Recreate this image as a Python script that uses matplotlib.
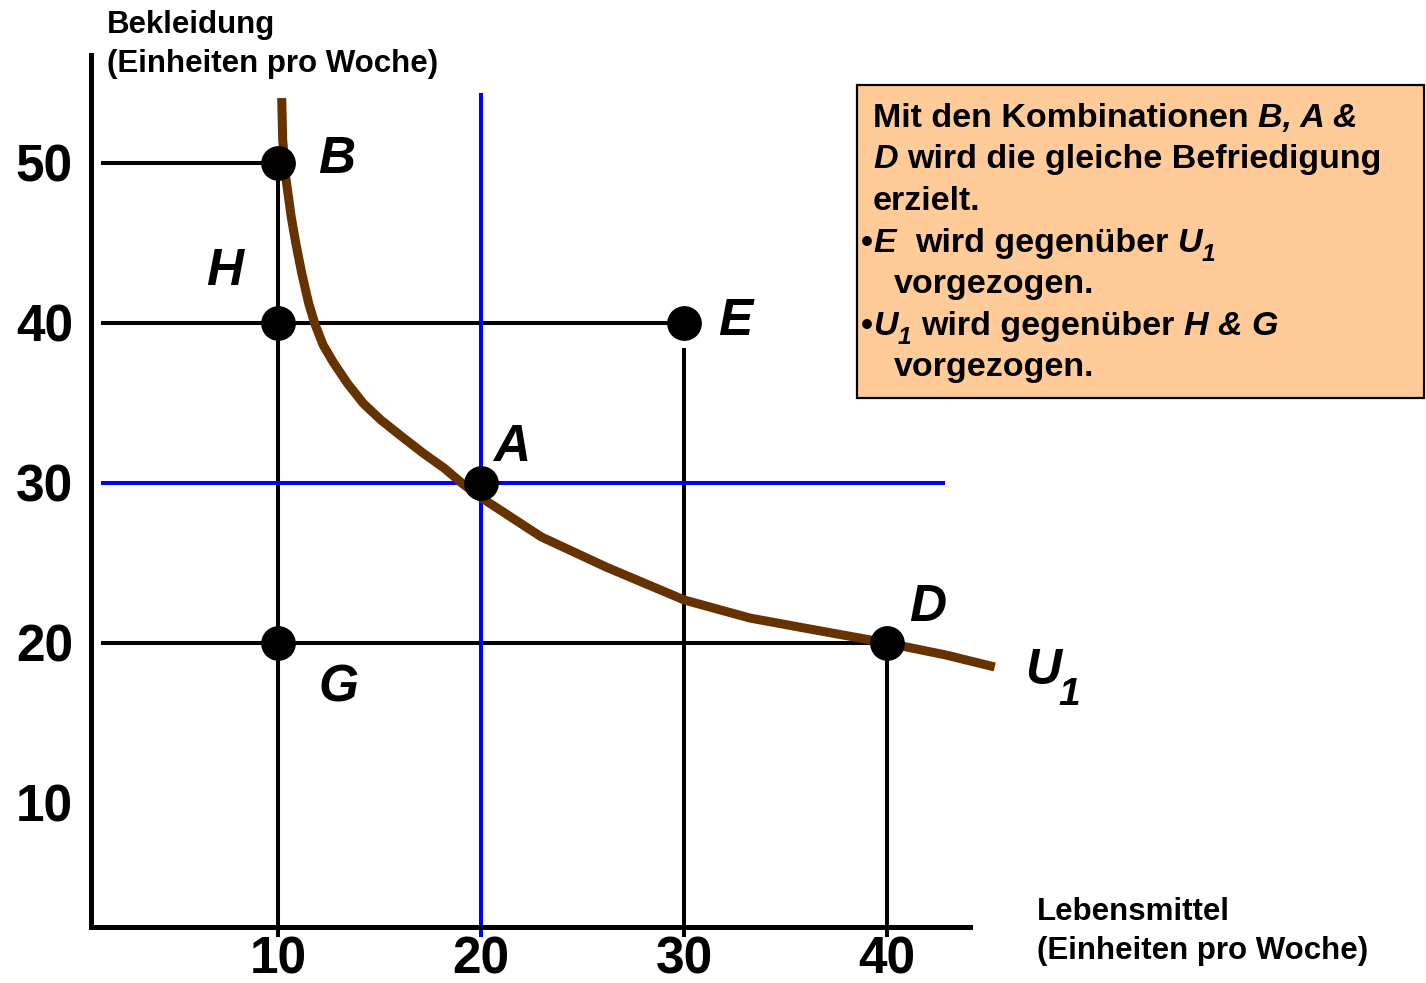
import matplotlib
matplotlib.use('Agg')
import matplotlib.pyplot as plt
from matplotlib.patches import Rectangle

# ========== Schrift ==========
plt.rcParams['font.family'] = ['Liberation Sans', 'DejaVu Sans']
plt.rcParams['font.weight'] = 'bold'

# ========== Daten ==========
# Indifferenzkurve U1
kurve_x = [10.16, 10.21, 10.36, 10.63, 10.85, 11.15, 11.49, 11.80, 12.20, 12.71,
           13.40, 14.18, 15.05, 16.09, 17.14, 18.18, 19.05, 20.00, 22.96, 26.15,
           30.00, 33.24, 36.47, 40.00, 42.90, 45.31]
kurve_y = [54.03, 51.41, 49.09, 46.59, 45.00, 43.07, 41.20, 39.90, 38.60, 37.50,
           36.20, 34.95, 33.91, 32.86, 31.83, 30.89, 29.95, 29.05, 26.60, 24.72,
           22.66, 21.53, 20.78, 19.97, 19.22, 18.47]

# Warenkörbe
punkt_namen = ['B', 'H', 'E', 'A', 'G', 'D']
punkt_x = [10, 10, 30, 20, 10, 40]
punkt_y = [50, 40, 40, 30, 20, 20]

x_ticks = [10, 20, 30, 40]
y_ticks = [10, 20, 30, 40, 50]

W, H = 1426, 983


def px(x, y):
    # Pixel (von links oben) -> Figurkoordinaten
    return x / W, 1 - y / H


fig = plt.figure(figsize=(W / 100, H / 100), dpi=100)
renderer = fig.canvas.get_renderer()
ax = fig.add_axes([91 / W, 1 - 927 / H, (970 - 91) / W, (927 - 55) / H])
ax.set_xlim(0.76, 44.09)
ax.set_ylim(2.22, 56.72)

for s in ['top', 'right']:
    ax.spines[s].set_visible(False)
for s in ['left', 'bottom']:
    ax.spines[s].set_linewidth(3.6)
    ax.spines[s].set_capstyle('projecting')

ax.set_xticks(x_ticks)
ax.set_xticklabels([str(v) for v in x_ticks], fontsize=37, fontweight='bold')
ax.set_yticks(y_ticks)
ax.set_yticklabels([str(v) for v in y_ticks], fontsize=37, fontweight='bold')
ax.tick_params(axis='y', length=0, pad=13)
ax.tick_params(axis='x', length=0, pad=6)

# Hilfslinien (schwarz)
x0 = 1.36
y_unten = 1.72
lw = 2.9
ax.plot([x0, 10], [50, 50], color='black', lw=lw)
ax.plot([x0, 30], [40, 40], color='black', lw=lw)
ax.plot([x0, 40], [20, 20], color='black', lw=lw)
ax.plot([10, 10], [50, y_unten], color='black', lw=lw, clip_on=False)
ax.plot([30, 30], [38.3, y_unten], color='black', lw=lw, clip_on=False)
ax.plot([40, 40], [20, y_unten], color='black', lw=lw, clip_on=False)

# blaue Linien durch A
ax.plot([x0, 42.75], [30, 30], color='#0000FF', lw=lw)
ax.plot([20, 20], [54.2, y_unten], color='#0000FF', lw=lw, clip_on=False)

# Kurve U1
ax.plot(kurve_x, kurve_y, color='#663300', lw=6.5, clip_on=False,
        solid_capstyle='butt', solid_joinstyle='round')

# Punkte
ax.plot(punkt_x, punkt_y, 'o', color='black', markersize=24, clip_on=False)

# Beschriftung der Punkte (Position in Pixel)
label_pos = {'B': (337, 155), 'H': (225, 267), 'E': (735, 317),
             'A': (512, 443), 'G': (338, 683), 'D': (928, 603)}
for name in punkt_namen:
    lx, ly = label_pos[name]
    fig.text(*px(lx, ly + 18), name, fontsize=37, fontweight='bold',
             style='italic', ha='center', va='baseline')

# U1
fig.text(*px(1043, 684), 'U', fontsize=36, fontweight='bold', style='italic',
         ha='center', va='baseline')
fig.text(*px(1069, 705), '1', fontsize=28, fontweight='bold', style='italic',
         ha='center', va='baseline')

# Achsenbeschriftungen
fig.text(*px(107, 33), 'Bekleidung', fontsize=22.5, fontweight='bold',
         ha='left', va='baseline')
fig.text(*px(107, 72), '(Einheiten pro Woche)', fontsize=22.5,
         fontweight='bold', ha='left', va='baseline')
fig.text(*px(1037, 920), 'Lebensmittel', fontsize=22.5, fontweight='bold',
         ha='left', va='baseline')
fig.text(*px(1037, 959), '(Einheiten pro Woche)', fontsize=22.5,
         fontweight='bold', ha='left', va='baseline')

# Textkasten
bx0, by0, bx1, by1 = 857, 85, 1424, 398
box = Rectangle(px(bx0, by1), (bx1 - bx0) / W, (by1 - by0) / H,
                transform=fig.transFigure, facecolor='#FFCC99',
                edgecolor='black', lw=1.6, zorder=0)
fig.patches.append(box)

fs = 24.5


def breite(txt, stil, groesse):
    t = fig.text(0, 0, txt, fontsize=groesse, fontweight='bold', style=stil)
    b = t.get_window_extent(renderer).width
    t.remove()
    return b


# Leerzeichenbreite (fuehrende Leerzeichen werden beim Messen verschluckt)
leer = breite('x x', 'normal', fs) - breite('xx', 'normal', fs)


def zeile(x, y, teile):
    # teile: (Text, 'n' normal / 'i' kursiv / 's' kursiver Index)
    for txt, art in teile:
        n_leer = len(txt) - len(txt.lstrip(' '))
        x += n_leer * leer
        txt = txt.lstrip(' ')
        stil = 'normal' if art == 'n' else 'italic'
        gr = fs * 0.72 if art == 's' else fs
        yy = y + (9 if art == 's' else 0)
        if txt:
            t = fig.text(*px(x, yy), txt, fontsize=gr, fontweight='bold',
                         style=stil, ha='left', va='baseline')
            x += t.get_window_extent(renderer).width


zeile(873, 127, [('Mit den Kombinationen', 'n'), (' B, A &', 'i')])
zeile(873, 168, [('D', 'i'), (' wird die gleiche Befriedigung', 'n')])
zeile(873, 210, [('erzielt.', 'n')])
zeile(861, 252, [('•', 'n'), ('E', 'i'), ('  wird gegenüber', 'n'),
                 (' U', 'i'), ('1', 's')])
zeile(894, 293, [('vorgezogen.', 'n')])
zeile(861, 335, [('•', 'n'), ('U', 'i'), ('1', 's'),
                 (' wird gegenüber', 'n'), (' H & G', 'i')])
zeile(894, 376, [('vorgezogen.', 'n')])

fig.savefig('out.png', dpi=100)
